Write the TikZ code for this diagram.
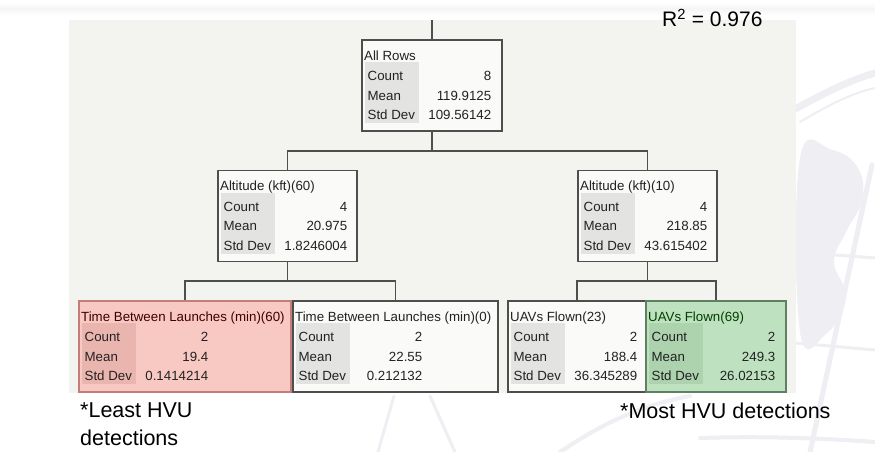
\documentclass[tikz,border=0pt]{standalone}
\usepackage{fontspec}
\setmainfont{Liberation Sans}
\usetikzlibrary{calc}

\definecolor{panelbg}{HTML}{F3F3EF}
\definecolor{globe}{HTML}{EEEEF3}
\definecolor{boxline}{HTML}{4E4E4E}
\definecolor{plainfill}{HTML}{FAFAF8}
\definecolor{plaincolc}{HTML}{E3E3E1}
\definecolor{redfill}{HTML}{F8C9C2}
\definecolor{redcolc}{HTML}{EBB5AF}
\definecolor{redline}{HTML}{C47E7A}
\definecolor{greenfill}{HTML}{BEE2BF}
\definecolor{greencolc}{HTML}{ACD2AE}
\definecolor{greenline}{HTML}{5F8062}
\definecolor{ink}{HTML}{222222}

\tikzset{
  box/.style={line width=1.1pt, minimum height=91pt, inner sep=0pt},
  plainbox/.style={fill=plainfill, draw=boxline},
  redbox/.style={fill=redfill, draw=redline},
  greenbox/.style={fill=greenfill, draw=greenline},
  plaincol/.style={fill=plaincolc},
  redcol/.style={fill=redcolc},
  greencol/.style={fill=greencolc},
  plainhead/.style={text=ink},
  redhead/.style={text=red!25!black},
  greenhead/.style={text=green!25!black},
  stat/.style={inner sep=0pt, text=ink, font=\fontsize{13.3}{16}\selectfont},
  link/.style={draw=boxline, line width=1.1pt, line join=miter},
  note/.style={inner sep=0pt, text=black, font=\fontsize{21.5}{28}\selectfont},
  globeline/.style={draw=globe, line cap=round}
}

% #1 name, #2 colour scheme, #3 centre, #4 width,
% #5 split label, #6 count, #7 mean, #8 std dev
\newcommand{\statbox}[8]{%
  \node[box,#2box,minimum width=#4pt] (#1) at (#3) {};
  \fill[#2col] ($(#1.north west)+(4,23)$) rectangle ($(#1.north west)+(58,84)$);
  \node[stat,#2head,anchor=base west] at ($(#1.north west)+(2.5,21)$) {#5};
  \node[stat,anchor=base west] at ($(#1.north west)+(6,41.5)$) {Count};
  \node[stat,anchor=base west] at ($(#1.north west)+(6,61)$) {Mean};
  \node[stat,anchor=base west] at ($(#1.north west)+(6,80.5)$) {Std Dev};
  \node[stat,anchor=base east] at ($(#1.north west)+(130,41.5)$) {#6};
  \node[stat,anchor=base east] at ($(#1.north west)+(130,61)$) {#7};
  \node[stat,anchor=base east] at ($(#1.north west)+(130,80.5)$) {#8};
}

\begin{document}
\begin{tikzpicture}[x=1pt,y=-1pt]
  \useasboundingbox (0,0) rectangle (875,452);
  \fill[white] (0,0) rectangle (875,452);
  \shade[top color=white, bottom color=gray!7] (0,2) rectangle (875,9);
  \shade[top color=gray!7, bottom color=white] (0,9) rectangle (875,16);

  % faint globe watermark
  \draw[globeline, line width=7pt] (790,112) .. controls (822,94) and (850,80) .. (875,73);
  \draw[globeline, line width=2pt] (800,122) .. controls (830,104) and (855,92) .. (875,88);
  \fill[globe] plot[smooth cycle, tension=0.7] coordinates
    {(800,158) (832,150) (858,168) (862,200) (846,232) (834,262) (846,298) (826,334) (800,332)};
  \draw[globeline, line width=5pt] (872,165) -- (810,452);
  \draw[globeline, line width=3pt] (796,252) -- (875,258);
  \draw[globeline, line width=3pt] (796,343) -- (875,350);
  \draw[globeline, line width=4pt] (700,438) .. controls (760,436) and (820,438) .. (875,442);
  \draw[globeline, line width=3pt] (378,452) -- (394,396);
  \draw[globeline, line width=3pt] (430,396) -- (455,452);
  \draw[globeline, line width=4pt] (560,452) .. controls (600,425) and (640,405) .. (690,396);

  % plot panel
  \fill[panelbg] (69,20) rectangle (796,393);

  \node[inner sep=0pt, anchor=base west, font=\fontsize{21}{25}\selectfont] (rsq)
    at (662,27) {R\textsuperscript{2} = 0.976};

  % partition tree
  \statbox{root}{plain}{432,85.5}{140}{All Rows}{8}{119.9125}{109.56142}
  \statbox{altA}{plain}{287.5,216}{139}{Altitude (kft)(60)}{4}{20.975}{1.8246004}
  \statbox{altB}{plain}{647.5,216}{139}{Altitude (kft)(10)}{4}{218.85}{43.615402}
  \statbox{leafA}{red}{185,346.5}{212}{Time Between Launches (min)(60)}{2}{19.4}{0.1414214}
  \statbox{leafB}{plain}{395.5,346.5}{205}{Time Between Launches (min)(0)}{2}{22.55}{0.212132}
  \statbox{leafC}{plain}{577,346.5}{138}{UAVs Flown(23)}{2}{188.4}{36.345289}
  \statbox{leafD}{green}{716,346.5}{140}{UAVs Flown(69)}{2}{249.3}{26.02153}

  \coordinate (top) at (432,20);
  \coordinate (j0) at (432,151);
  \coordinate (j1) at (287.5,281);
  \coordinate (j2) at (647.5,281);

  \draw[link] (top) -- (root.north);
  \draw[link] (root.south) -- (j0);
  \draw[link] (altA.north) |- (j0) -| (altB.north);
  \draw[link] (altA.south) -- (j1);
  \draw[link] (leafA.north) |- (j1) -| (leafB.north);
  \draw[link] (altB.south) -- (j2);
  \draw[link] (leafC.north) |- (j2) -| (leafD.north);

  % annotations
  \node[note, anchor=base west] (least) at (80,417) {*Least HVU};
  \node[note, anchor=base west] (least2) at (80,445) {detections};
  \node[note, anchor=base west] (most) at (620,418) {*Most HVU detections};
\end{tikzpicture}
\end{document}
